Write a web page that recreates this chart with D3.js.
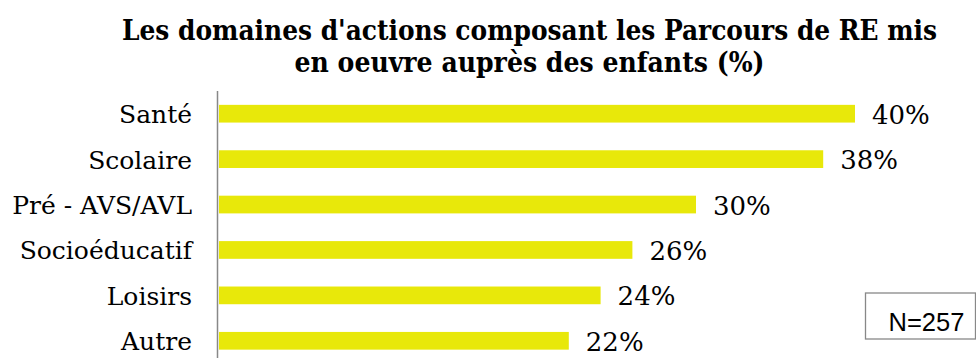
<!DOCTYPE html>
<html>
<head>
<meta charset="utf-8">
<script src="https://cdn.jsdelivr.net/npm/d3@7"></script>
<style>
  html, body { margin: 0; padding: 0; background: #fff; }
  svg { display: block; }
</style>
</head>
<body>
<svg id="chart" width="976" height="358"></svg>
<script>
// Domaines d'actions et part des parcours (%)
const categories = ["Santé", "Scolaire", "Pré - AVS/AVL", "Socioéducatif", "Loisirs", "Autre"];
const values = [40, 38, 30, 26, 24, 22];
const titleLines = [
  "Les domaines d'actions composant les Parcours de RE mis",
  "en oeuvre auprès des enfants (%)"
];
const sampleNote = "N=257";

const svg = d3.select("#chart");
const W = 976, H = 358;

const x0 = 219;
const x = d3.scaleLinear().domain([0, 40]).range([x0, x0 + 636]);
const y = d3.scaleBand()
  .domain(categories)
  .range([91, 363.5])
  .paddingInner(0.61)
  .paddingOuter(0.305);

// Title
const titleWidths = [815, 470];
titleLines.forEach((line, i) => {
  svg.append("text")
    .attr("x", 529.5)
    .attr("y", 40 + i * 32.3)
    .attr("text-anchor", "middle")
    .attr("font-family", "'DejaVu Serif Condensed', 'DejaVu Serif', serif")
    .attr("font-stretch", "condensed")
    .attr("font-weight", "bold")
    .attr("font-size", 27.5)
    .attr("textLength", titleWidths[i])
    .attr("lengthAdjust", "spacingAndGlyphs")
    .attr("fill", "#000")
    .text(line);
});

// Bars
svg.append("g").selectAll("rect")
  .data(categories)
  .join("rect")
  .attr("x", x(0))
  .attr("y", d => y(d))
  .attr("width", (d, i) => x(values[i]) - x(0))
  .attr("height", y.bandwidth())
  .attr("fill", "#E8E80A");

// Vertical category axis
svg.append("line")
  .attr("x1", 217.5).attr("x2", 217.5)
  .attr("y1", 91).attr("y2", H)
  .attr("stroke", "#888")
  .attr("stroke-width", 1.5);

// Category labels
svg.append("g").selectAll("text")
  .data(categories)
  .join("text")
  .attr("x", 192)
  .attr("y", d => y(d) + y.bandwidth() / 2 + 9.4)
  .attr("text-anchor", "end")
  .attr("font-family", "'DejaVu Serif', serif")
  .attr("font-size", 25)
  .attr("fill", "#000")
  .text(d => d);

// Value labels
svg.append("g").selectAll("text")
  .data(categories)
  .join("text")
  .attr("x", (d, i) => x(values[i]) + 17)
  .attr("y", d => y(d) + y.bandwidth() / 2 + 10)
  .attr("font-family", "'DejaVu Serif', serif")
  .attr("font-size", 26)
  .attr("fill", "#000")
  .text((d, i) => values[i] + "%");

// Sample size box
svg.append("rect")
  .attr("x", 865.5).attr("y", 293)
  .attr("width", 110).attr("height", 46)
  .attr("fill", "#fff")
  .attr("stroke", "#888")
  .attr("stroke-width", 1.3);
svg.append("text")
  .attr("x", 926.5)
  .attr("y", 331)
  .attr("text-anchor", "middle")
  .attr("font-family", "'Liberation Sans', sans-serif")
  .attr("font-size", 25.5)
  .attr("fill", "#000")
  .text(sampleNote);
</script>
</body>
</html>
